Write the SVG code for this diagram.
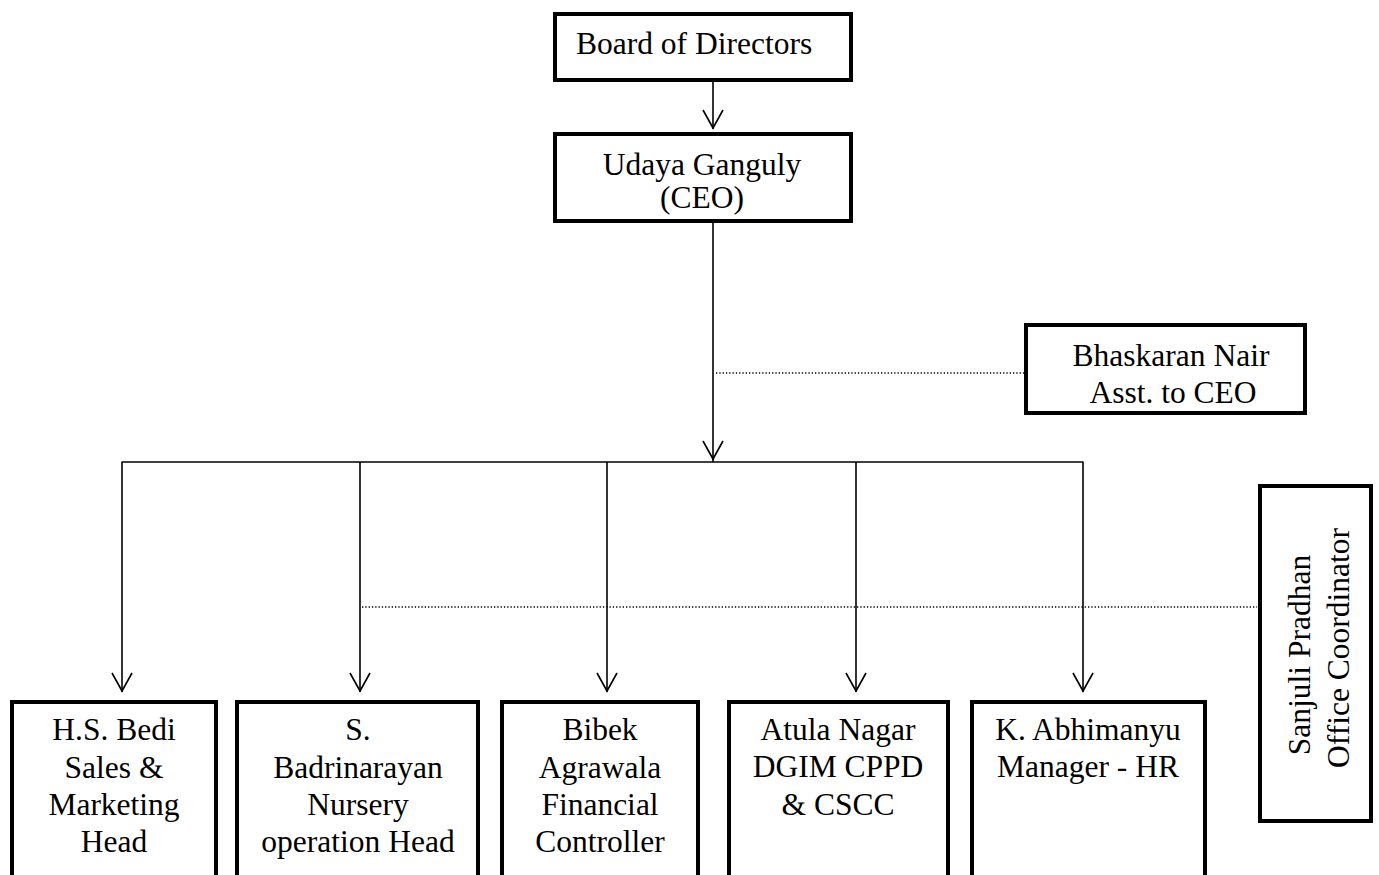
<svg xmlns="http://www.w3.org/2000/svg" width="1379" height="875" viewBox="0 0 1379 875">
<style>
.box{fill:#fff;stroke:#000;stroke-width:4}
.t{font-family:"Liberation Serif","Times New Roman",serif;font-size:31.5px;fill:#000}
.c{text-anchor:middle}
.ln{fill:none;stroke:#000;stroke-width:1.6}
.dot{fill:none;stroke:#000;stroke-width:1.4;stroke-dasharray:1.3 2}
</style>
<rect width="1379" height="875" fill="#fff"/>
<g id="connectors">
<line class="ln" x1="713" y1="82" x2="713" y2="129"/>
<polyline class="ln" points="703,110 713,128 723,110"/>
<line class="ln" x1="713" y1="223" x2="713" y2="462"/>
<polyline class="ln" points="703,441 713,459 723,441"/>
<line class="ln" x1="121.5" y1="462" x2="1083.5" y2="462"/>
<line class="ln" x1="122" y1="462" x2="122" y2="692"/>
<polyline class="ln" points="112,673 122,691 132,673"/>
<line class="ln" x1="360" y1="462" x2="360" y2="692"/>
<polyline class="ln" points="350,673 360,691 370,673"/>
<line class="ln" x1="607" y1="462" x2="607" y2="692"/>
<polyline class="ln" points="597,673 607,691 617,673"/>
<line class="ln" x1="856" y1="462" x2="856" y2="692"/>
<polyline class="ln" points="846,673 856,691 866,673"/>
<line class="ln" x1="1083" y1="462" x2="1083" y2="692"/>
<polyline class="ln" points="1073,673 1083,691 1093,673"/>
<line class="dot" x1="716" y1="373" x2="1024" y2="373"/>
<line class="dot" x1="362" y1="607" x2="1257" y2="607"/>
</g>
<g id="board">
<rect class="box" x="555" y="14" width="296" height="66"/>
<text class="t" x="576" y="54">Board of Directors</text>
</g>
<g id="ceo">
<rect class="box" x="555" y="134" width="296" height="87"/>
<text class="t c" x="702" y="175">Udaya Ganguly</text>
<text class="t c" x="702" y="208">(CEO)</text>
</g>
<g id="assistant">
<rect class="box" x="1026" y="325" width="279" height="88"/>
<text class="t c" x="1171" y="366">Bhaskaran Nair</text>
<text class="t c" x="1173" y="403">Asst. to CEO</text>
</g>
<g id="coordinator">
<rect class="box" x="1260" y="486" width="111" height="335"/>
<text class="t c" transform="translate(1310,655) rotate(-90)">Sanjuli Pradhan</text>
<text class="t c" transform="translate(1349,648) rotate(-90)">Office Coordinator</text>
</g>
<g id="sales">
<rect class="box" x="12" y="702" width="204" height="200"/>
<text class="t c" x="114" y="740">H.S. Bedi</text>
<text class="t c" x="114" y="778">Sales &amp;</text>
<text class="t c" x="114" y="815">Marketing</text>
<text class="t c" x="114" y="852">Head</text>
</g>
<g id="nursery">
<rect class="box" x="237" y="702" width="241" height="200"/>
<text class="t c" x="358" y="740">S.</text>
<text class="t c" x="358" y="778">Badrinarayan</text>
<text class="t c" x="358" y="815">Nursery</text>
<text class="t c" x="358" y="852">operation Head</text>
</g>
<g id="finance">
<rect class="box" x="502" y="702" width="196" height="200"/>
<text class="t c" x="600" y="740">Bibek</text>
<text class="t c" x="600" y="778">Agrawala</text>
<text class="t c" x="600" y="815">Financial</text>
<text class="t c" x="600" y="852">Controller</text>
</g>
<g id="cppd">
<rect class="box" x="729" y="702" width="219" height="200"/>
<text class="t c" x="838" y="740">Atula Nagar</text>
<text class="t c" x="838" y="777">DGIM CPPD</text>
<text class="t c" x="838" y="815">&amp; CSCC</text>
</g>
<g id="hr">
<rect class="box" x="972" y="702" width="233" height="200"/>
<text class="t c" x="1088" y="740">K. Abhimanyu</text>
<text class="t c" x="1088" y="777">Manager - HR</text>
</g>
</svg>
